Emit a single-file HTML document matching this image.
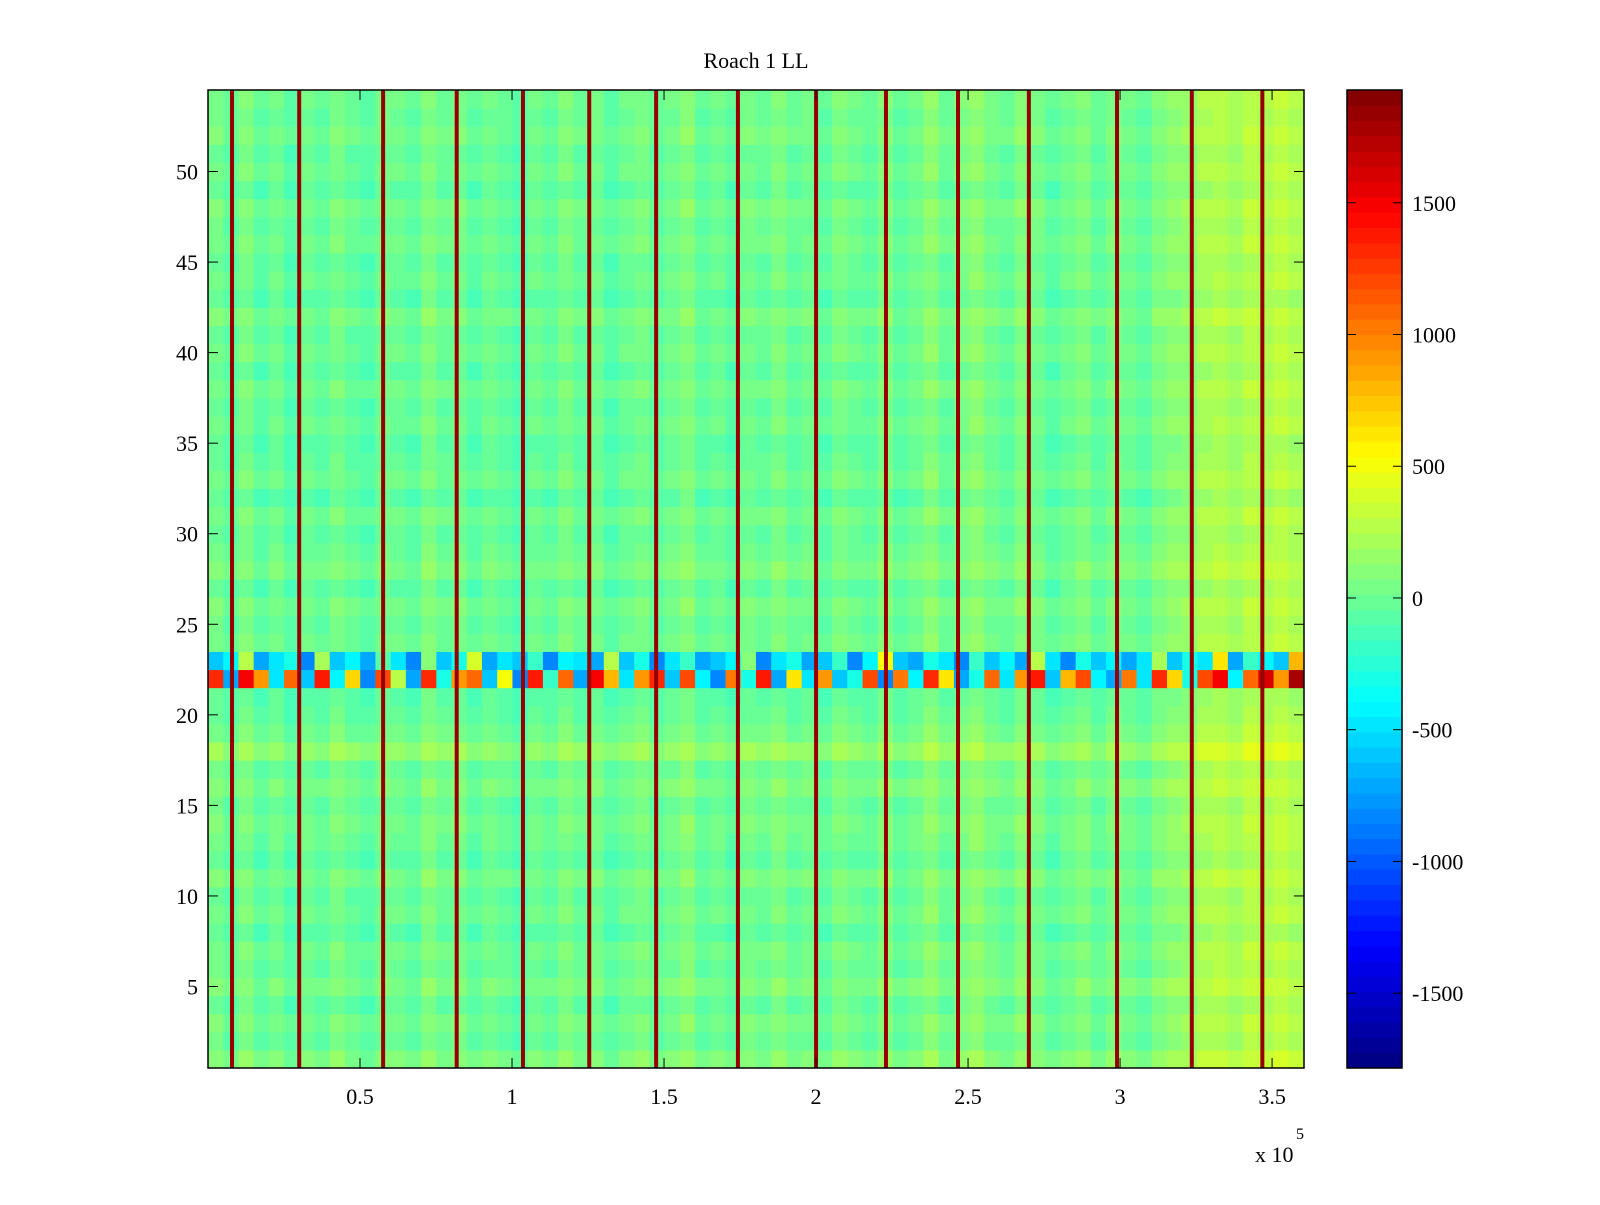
<!DOCTYPE html>
<html><head><meta charset="utf-8"><style>
body{margin:0;background:#fff;}
svg text{font-family:"Liberation Serif",serif;font-size:22px;fill:#000;}
</style></head><body>
<svg id="chart" width="1600" height="1200" xmlns="http://www.w3.org/2000/svg">
<rect width="1600" height="1200" fill="#fff"/>
<text x="756" y="68" text-anchor="middle">Roach 1 LL</text>
<g id="cells"></g>
<g id="axes"></g>
<g id="cbar"></g>
</svg>
<script>
// ---- data ----
const xMin = 0, xMax = 3.605;       // x 10^5
const yMin = 0.5, yMax = 54.5;
const cMin = -1784, cMax = 1928;
const xTicks = [0.5, 1, 1.5, 2, 2.5, 3, 3.5];
const xTickLabels = ["0.5","1","1.5","2","2.5","3","3.5"];
const yTicks = [5,10,15,20,25,30,35,40,45,50];
const cTicks = [-1500,-1000,-500,0,500,1000,1500];
// base level per column segment (72 segments of 0.05e5)
const colBase = [40,-30,60,-60,20,-80,10,-40,50,-20,-70,30,0,-50,80,-10,40,-60,20,-30,
  -90,10,-40,60,-20,30,-70,0,50,-30,20,90,-40,10,-60,40,-10,70,-20,30,
  -50,60,0,-30,80,-40,20,110,-10,60,120,30,-20,90,40,-60,10,70,-30,50,
  20,-40,80,130,150,230,260,200,280,250,300,240];
// per-row offsets, rows 1..54
const rowOffset = [80,-20,40,-40,60,-10,30,-60,20,-30,50,-50,10,40,-20,60,-10,150,30,-30,
  -60,0,0,20,-20,40,-50,60,0,-40,30,-70,20,-30,-60,10,-40,30,-50,20,
  -30,50,-60,10,-40,30,-20,40,-50,20,-30,40,-10,20];
// rows 22 and 23 (the striped band)
const row22 = [1300,-700,1500,900,-500,1100,-600,1400,-400,700,-800,1200,300,-700,1300,-300,900,1100,-600,500,
  -800,1400,-200,1100,-700,1500,800,-500,900,1300,-600,1200,-400,-800,1000,-300,1400,-700,600,-500,
  900,-600,-300,1200,-800,1000,-400,1300,600,-700,-300,1100,-500,900,1400,-600,800,1200,-400,-700,
  1000,-500,1300,700,-300,1200,1500,-400,1100,1600,900,1800];
const row23 = [-600,-400,300,-700,-500,-300,-800,200,-600,-400,-700,-100,-500,-800,100,-600,-300,400,-700,-500,
  -600,-200,-800,-400,-500,-700,300,-600,-300,-800,-500,-200,-700,-600,-400,100,-800,-500,-300,-700,
  -600,-200,-800,-400,500,-600,-700,-300,-500,-800,-200,-600,-400,-700,300,-500,-800,-300,-600,-400,
  -700,-500,200,-600,-300,-500,600,-700,-200,-400,-600,800];
// dark-red vertical stripes (x 10^5)
const stripeX = [0.079,0.30,0.576,0.818,1.036,1.254,1.474,1.743,2.0,2.23,2.467,2.70,2.99,3.236,3.468];
const stripeVal = 1850;

// ---- axes ----
const L=208,R=1304,T=90,B=1068;
const CL=1347,CR=1402;
const sx = v => L + (v - xMin)/(xMax - xMin)*(R-L);
const sy = v => B - (v - yMin)/(yMax - yMin)*(B-T);
const sc = v => B - (v - cMin)/(cMax - cMin)*(B-T);
function jet(t){
  t=Math.max(0,Math.min(1,t));
  const f=x=>Math.max(0,Math.min(1,x));
  const r=f(1.5-Math.abs(4*t-3)), g=f(1.5-Math.abs(4*t-2)), b=f(1.5-Math.abs(4*t-1));
  return `rgb(${Math.round(r*255)},${Math.round(g*255)},${Math.round(b*255)})`;
}
const colorOf = v => { const lv=Math.floor((v-cMin)/(cMax-cMin)*64); return jet((Math.min(63,Math.max(0,lv))+0.5)/64); };
const NS="http://www.w3.org/2000/svg";
function mk(tag,attrs,parent){const e=document.createElementNS(NS,tag);for(const k in attrs)e.setAttribute(k,attrs[k]);parent.appendChild(e);return e;}
const cells=document.getElementById('cells');
const nCols=colBase.length, segW=(xMax-xMin)/nCols;
for(let r=1;r<=54;r++){
  for(let c=0;c<nCols;c++){
    let v;
    if(r===22) v=row22[c]; else if(r===23) v=row23[c]; else v=colBase[c]+rowOffset[r-1];
    const x0=sx(xMin+c*segW), x1=sx(xMin+(c+1)*segW);
    const el=mk('rect',{x:x0,y:sy(r+0.5),width:x1-x0+0.5,height:sy(r-0.5)-sy(r+0.5)+0.5,fill:colorOf(v)},cells);
    
    
  }
}
stripeX.forEach(s=>{
  const el=mk('rect',{x:sx(s)-2,y:T,width:4,height:B-T,fill:colorOf(stripeVal)},cells);
  
  
});
const ax=document.getElementById('axes');
mk('rect',{x:L,y:T,width:R-L,height:B-T,fill:'none',stroke:'#000','stroke-width':1.5},ax);
xTicks.forEach((t,i)=>{
  const x=sx(t);
  mk('line',{x1:x,y1:B,x2:x,y2:B-10,stroke:'#000'},ax);
  mk('line',{x1:x,y1:T,x2:x,y2:T+10,stroke:'#000'},ax);
  const tx=mk('text',{x:x,y:B+36,'text-anchor':'middle'},ax);tx.textContent=xTickLabels[i];
  
  
});
yTicks.forEach(t=>{
  const y=sy(t);
  mk('line',{x1:L,y1:y,x2:L+10,y2:y,stroke:'#000'},ax);
  mk('line',{x1:R,y1:y,x2:R-10,y2:y,stroke:'#000'},ax);
  const tx=mk('text',{x:L-10,y:y+8,'text-anchor':'end'},ax);tx.textContent=t;
  
  
});
const ex=mk('text',{x:1255,y:1162},ax);ex.textContent='x 10';


const ex2=mk('text',{x:1296,y:1139,style:'font-size:16px'},ax);ex2.textContent='5';


const cb=document.getElementById('cbar');
for(let i=0;i<64;i++){
  const y0=B-(i+1)*(B-T)/64;
  mk('rect',{x:CL,y:y0,width:CR-CL,height:(B-T)/64+0.5,fill:jet((i+0.5)/64)},cb);
}
mk('rect',{x:CL,y:T,width:CR-CL,height:B-T,fill:'none',stroke:'#000','stroke-width':1.5},cb);
cTicks.forEach(t=>{
  const y=sc(t);
  mk('line',{x1:CL,y1:y,x2:CL+9,y2:y,stroke:'#000'},cb);
  mk('line',{x1:CR,y1:y,x2:CR-9,y2:y,stroke:'#000'},cb);
  const tx=mk('text',{x:CR+10,y:y+8},cb);tx.textContent=t;
  
  
});
</script>
</body></html>
